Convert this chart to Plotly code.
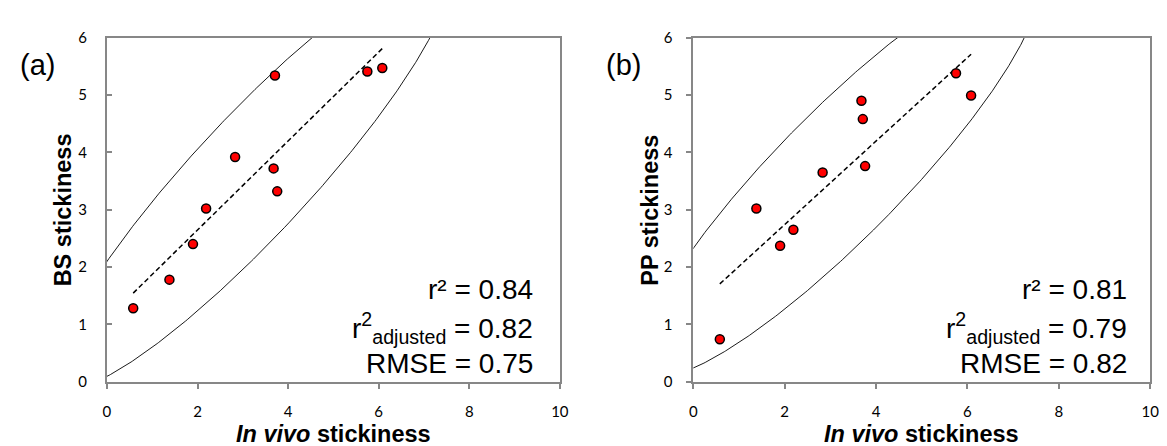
import numpy as np
import plotly.graph_objects as go

# ---- data ----
invivo = [0.58, 1.38, 1.90, 2.19, 2.83, 3.68, 3.71, 3.76, 5.75, 6.08]
bs_stick = [1.28, 1.78, 2.40, 3.02, 3.92, 3.72, 5.34, 3.32, 5.41, 5.47]
pp_stick = [0.74, 3.02, 2.37, 2.65, 3.65, 4.90, 4.58, 3.76, 5.38, 4.99]

stats_a = ["0.84", "0.82", "0.75"]
stats_b = ["0.81", "0.79", "0.82"]
x_ticks = [0, 2, 4, 6, 8, 10]
y_ticks = [0, 1, 2, 3, 4, 5, 6]
CHI2_95 = 5.991  # 95% confidence ellipse, 2 dof

W, H = 1167, 446


def px_x(p):
    return p / W


def px_y(p):
    return 1 - p / H


def ellipse(x, y, n=720):
    x = np.asarray(x, float)
    y = np.asarray(y, float)
    cov = np.cov(x, y)
    vals, vecs = np.linalg.eigh(cov)
    t = np.linspace(0, 2 * np.pi, n)
    circ = np.vstack([np.cos(t), np.sin(t)])
    pts = vecs @ (np.sqrt(vals * CHI2_95)[:, None] * circ)
    return pts[0] + x.mean(), pts[1] + y.mean()


def fit_line(x, y):
    x = np.asarray(x, float)
    y = np.asarray(y, float)
    b, a = np.polyfit(x, y, 1)
    xs = np.array([x.min(), x.max()])
    return xs, a + b * xs


fig = go.Figure()

panels = [
    dict(y=bs_stick, xa="x", ya="y"),
    dict(y=pp_stick, xa="x2", ya="y2"),
]
for p in panels:
    ex, ey = ellipse(invivo, p["y"])
    fig.add_trace(go.Scatter(x=ex, y=ey, mode="lines",
                             line=dict(color="black", width=0.9),
                             xaxis=p["xa"], yaxis=p["ya"], hoverinfo="skip"))
    lx, ly = fit_line(invivo, p["y"])
    fig.add_trace(go.Scatter(x=lx, y=ly, mode="lines",
                             line=dict(color="black", width=1.5, dash="5px,3px"),
                             xaxis=p["xa"], yaxis=p["ya"], hoverinfo="skip"))
    fig.add_trace(go.Scatter(x=invivo, y=p["y"], mode="markers",
                             marker=dict(size=9, color="#FF0000",
                                         line=dict(color="black", width=1.5)),
                             xaxis=p["xa"], yaxis=p["ya"], cliponaxis=False))

GRAY = "#878787"
tick_font = dict(family="Lato", size=15, color="black")
base = dict(showgrid=False, zeroline=False, tickwidth=1.5, tickcolor=GRAY, ticklen=5)
frame = dict(showline=True, linecolor=GRAY, linewidth=1.75, mirror=True,
             tickfont=tick_font, **base)
# overlay axes give the "cross" tick look on the x axes
cross = dict(showline=False, showticklabels=False, ticks="inside", **base)

LDOM = [px_x(96), px_x(554)]
RDOM = [px_x(689), px_x(1151)]
YDOM = [px_y(379), px_y(20.5)]

fig.update_layout(
    width=W, height=H, margin=dict(l=0, r=0, t=0, b=0),
    paper_bgcolor="white", plot_bgcolor="white", showlegend=False,
    xaxis=dict(domain=LDOM, range=[0, 10], tickvals=x_ticks, anchor="y",
               ticks="outside", ticklabelstandoff=10, **frame),
    yaxis=dict(domain=YDOM, range=[0, 6], tickvals=y_ticks, anchor="x",
               ticks="inside", ticklabelstandoff=15, **frame),
    xaxis2=dict(domain=RDOM, range=[0, 10], tickvals=x_ticks, anchor="y2",
                ticks="outside", ticklabelstandoff=10, **frame),
    yaxis2=dict(domain=YDOM, range=[0, 6], tickvals=y_ticks, anchor="x2",
                ticks="outside", ticklabelstandoff=11, **frame),
    xaxis3=dict(overlaying="x", anchor="y", range=[0, 10], tickvals=x_ticks, **cross),
    xaxis4=dict(overlaying="x2", anchor="y2", range=[0, 10], tickvals=x_ticks, **cross),
)

title_font = dict(family="Liberation Sans", size=23.5, color="black")
stat_font = dict(family="Liberation Sans", size=28, color="black")
label_font = dict(family="Liberation Sans", size=29, color="black")

ann = []
for (l, r, ylab, tag, stats, sx) in [
    (96, 554, "BS stickiness", "(a)", stats_a, 9.46),
    (689, 1151, "PP stickiness", "(b)", stats_b, 9.54),
]:
    xr = "x" if l == 96 else "x2"
    ann.append(dict(x=px_x((l + r) / 2), y=px_y(434), xref="paper", yref="paper",
                    text="<b><i>In vivo</i> stickiness</b>", showarrow=False,
                    font=title_font, xanchor="center", yanchor="middle"))
    ann.append(dict(x=px_x(l - 44), y=px_y(200), xref="paper", yref="paper",
                    text="<b>" + ylab + "</b>", showarrow=False, textangle=-90,
                    font=title_font, xanchor="center", yanchor="middle"))
    ann.append(dict(x=px_x(l - 70.7), y=px_y(48.5), xref="paper", yref="paper",
                    text=tag, showarrow=False, font=label_font,
                    xanchor="center", yanchor="middle"))
    texts = ["r² = " + stats[0],
             "r<sup>2</sup><sub>adjusted</sub> = " + stats[1],
             "RMSE = " + stats[2]]
    for t, yy in zip(texts, [283.3, 322.7, 360.0]):
        ann.append(dict(x=sx, y=px_y(yy), xref=xr, yref="paper", text=t,
                        showarrow=False, font=stat_font,
                        xanchor="right", yanchor="middle"))

fig.update_layout(annotations=ann)
fig.write_html("out.html")
